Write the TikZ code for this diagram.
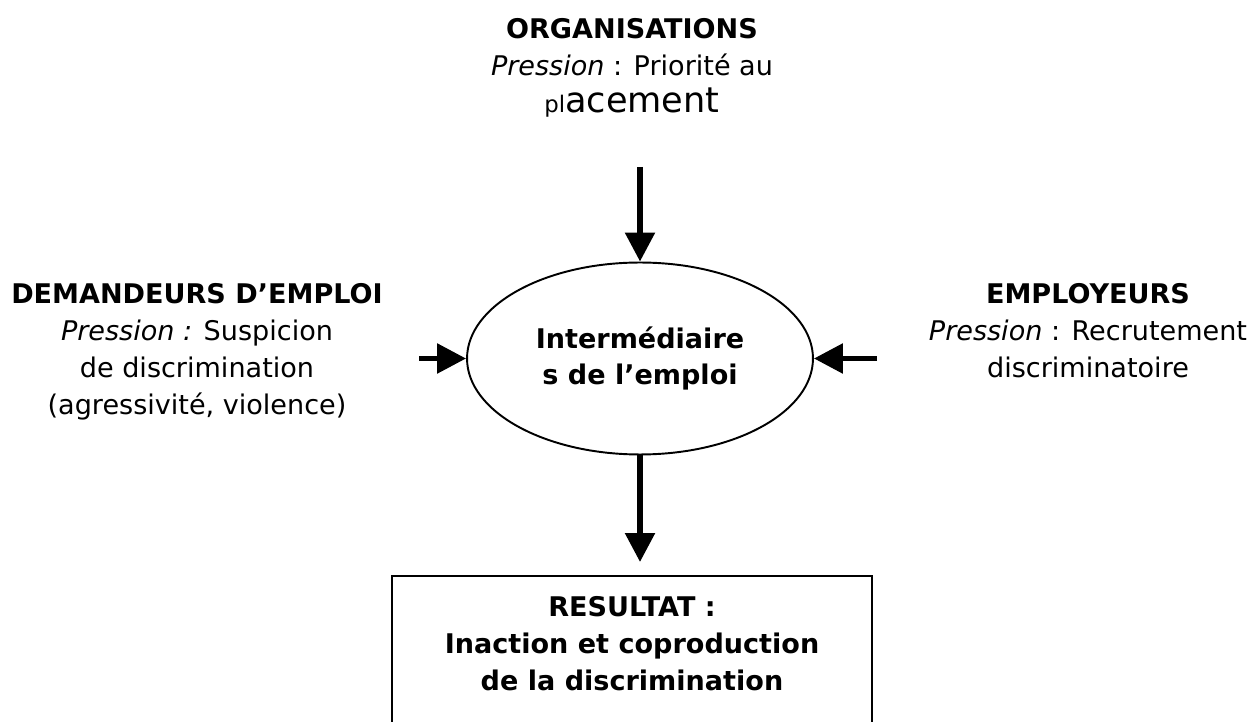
\documentclass[tikz,border=0pt]{standalone}
\usepackage{fontspec}
\setmainfont{DejaVu Sans}
\usetikzlibrary{shapes,arrows.meta,positioning}

\begin{document}
\begin{tikzpicture}[
    x=0.02cm, y=-0.02cm,
    actor/.style={align=center, inner sep=0pt, anchor=north, font=\fontsize{15.4}{21}\selectfont},
    hub/.style={ellipse, draw, line width=1.1pt, minimum width=6.92cm, minimum height=3.84cm, align=center, font=\fontsize{15.4}{20.5}\selectfont\bfseries},
    outcome/.style={rectangle, draw, line width=1.4pt, minimum width=9.6cm, minimum height=4cm, anchor=north},
    arrow/.style={-{Triangle[length=0.58cm, width=0.58cm]}, line width=0.11cm}
]
\useasboundingbox (0,0) rectangle (1248,722);

% Nodes
\node [actor] (org) at (632,18) {\textbf{ORGANISATIONS}\\\textit{Pression} : Priorité au\\{\fontsize{13}{21}\selectfont pl}{\fontsize{20}{21}\selectfont acement}};
\node [actor] (dem) at (197,283) {\textbf{DEMANDEURS D’EMPLOI}\\\textit{Pression :} Suspicion\\de discrimination\\(agressivité, violence)};
\node [actor] (emp) at (1088,283) {\textbf{EMPLOYEURS}\\\textit{Pression} : Recrutement\\discriminatoire};
\node [hub] (inter) at (640,358.5) {Intermédiaire\\s de l’emploi};
\node [outcome] (resbox) at (632,575) {};
\node [actor, font=\fontsize{15.4}{21}\selectfont\bfseries, below=0.43cm of resbox.north] (restext) {RESULTAT :\\Inaction et coproduction\\de la discrimination};

% Pressures on the hub
\coordinate (orgtail) at (640,167);
\coordinate (demtail) at (419,358.5);
\coordinate (emptail) at (877,358.5);
\draw [arrow] (orgtail) -- (inter.north);
\draw [arrow] (demtail) -- (inter.west);
\draw [arrow] (emptail) -- (inter.east);

% Outcome
\draw [arrow, shorten >=0.26cm] (inter.south) -- (inter.south |- resbox.north);

\end{tikzpicture}
\end{document}
